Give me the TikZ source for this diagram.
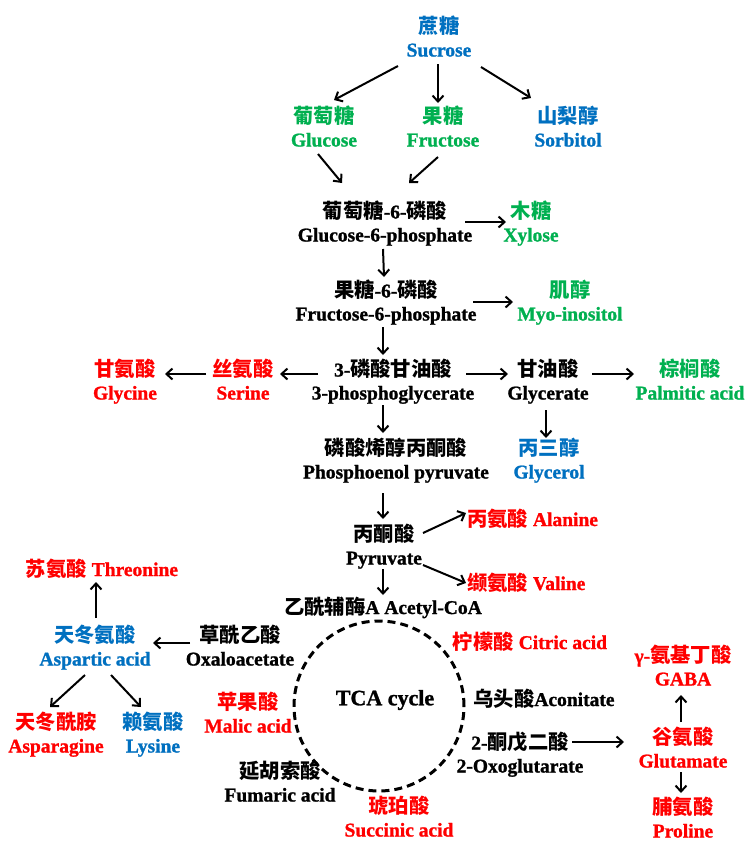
\documentclass[tikz,border=0pt]{standalone}
\usepackage{fontspec}
\setmainfont{Liberation Serif}[BoldFeatures={FakeBold=1.2}]
\newfontfamily\cjkfam{Noto Sans CJK SC}
\usetikzlibrary{arrows.meta}
\definecolor{cblue}{HTML}{0070C0}
\definecolor{cgreen}{HTML}{00B050}
\definecolor{cred}{HTML}{FF0000}
\newcommand\zh[1]{{\cjkfam\bfseries\fontsize{20.3}{23}\selectfont #1}}
\newcommand\two[2]{#1\rule{0pt}{18pt}\\#2\rule[-6pt]{0pt}{6pt}}
\newcommand\one[1]{\rule[-6pt]{0pt}{24pt}#1}
\begin{document}
\begin{tikzpicture}[x=1pt,y=-1pt,
  cmp/.style={align=center,inner sep=0pt,font=\fontsize{19.5}{23}\selectfont\bfseries},
  arr/.style={line width=2pt,-{Straight Barb[length=6pt,width=11pt]}}]
\fill[white] (0,0) rectangle (748,844);
\useasboundingbox (0,0) rectangle (748,844);
% nodes
\node[cmp,text=cblue] (suc) at (439,39) {\two{\zh{蔗糖}}{Sucrose}};
\node[cmp,text=cgreen] (glc) at (324,129) {\two{\zh{葡萄糖}}{Glucose}};
\node[cmp,text=cgreen] (fru) at (443,129) {\two{\zh{果糖}}{Fructose}};
\node[cmp,text=cblue] (sor) at (568,129) {\two{\zh{山梨醇}}{Sorbitol}};
\node[cmp] (g6p) at (385,224) {\two{\zh{葡萄糖}-6-\zh{磷酸}}{Glucose-6-phosphate}};
\node[cmp,text=cgreen] (xyl) at (531,224) {\two{\zh{木糖}}{Xylose}};
\node[cmp] (f6p) at (386,303) {\two{\zh{果糖}-6-\zh{磷酸}}{Fructose-6-phosphate}};
\node[cmp,text=cgreen] (myo) at (570,303) {\two{\zh{肌醇}}{Myo-inositol}};
\node[cmp] (pg3) at (393,382) {\two{3-\zh{磷酸甘油酸}}{3-phosphoglycerate}};
\node[cmp,text=cred] (ser) at (243,382) {\two{\zh{丝氨酸}}{Serine}};
\node[cmp,text=cred] (gly) at (125,382) {\two{\zh{甘氨酸}}{Glycine}};
\node[cmp] (glyc) at (548,382) {\two{\zh{甘油酸}}{Glycerate}};
\node[cmp,text=cgreen] (palm) at (690,382) {\two{\zh{棕榈酸}}{Palmitic acid}};
\node[cmp] (pep) at (396,461) {\two{\zh{磷酸烯醇丙酮酸}}{Phosphoenol pyruvate}};
\node[cmp,text=cblue] (glyl) at (549,461) {\two{\zh{丙三醇}}{Glycerol}};
\node[cmp] (pyr) at (384,547) {\two{\zh{丙酮酸}}{Pyruvate}};
\node[cmp,text=cred,anchor=west] (ala) at (467,520) {\one{\zh{丙氨酸} Alanine}};
\node[cmp,text=cred,anchor=west] (val) at (467,584) {\one{\zh{缬氨酸} Valine}};
\node[cmp] (acoa) at (383,608) {\one{\zh{乙酰辅酶}A Acetyl-CoA}};
\node[cmp,text=cred] (thr) at (102,570) {\one{\zh{苏氨酸} Threonine}};
\node[cmp,text=cblue] (asp) at (95,648) {\two{\zh{天冬氨酸}}{Aspartic acid}};
\node[cmp] (oaa) at (240,648) {\two{\zh{草酰乙酸}}{Oxaloacetate}};
\node[cmp,text=cred] (cit) at (530,643) {\one{\zh{柠檬酸} Citric acid}};
\node[cmp,text=cred] (asn) at (56,735) {\two{\zh{天冬酰胺}}{Asparagine}};
\node[cmp,text=cblue] (lys) at (153,735) {\two{\zh{赖氨酸}}{Lysine}};
\node[cmp,text=cred] (mal) at (248,715) {\two{\zh{苹果酸}}{Malic acid}};
\node[draw,circle,minimum size=170pt,inner sep=0pt,line width=3pt,dash pattern=on 8pt off 5pt] (cyc) at (379,706) {};
\node[inner sep=0pt,font=\fontsize{22}{26}\selectfont\bfseries] (tca) at (385,700) {TCA cycle};
\node[cmp] (aco) at (544,700) {\one{\zh{乌头酸}Aconitate}};
\node[cmp] (oxg) at (520,755) {\two{2-\zh{酮戊二酸}}{2-Oxoglutarate}};
\node[cmp,text=cred] (glu) at (683,750) {\two{\zh{谷氨酸}}{Glutamate}};
\node[cmp,text=cred] (gaba) at (683,668) {\two{γ-\zh{氨基丁酸}}{GABA}};
\node[cmp,text=cred] (pro) at (683,820) {\two{\zh{脯氨酸}}{Proline}};
\node[cmp] (fum) at (280,784) {\two{\zh{延胡索酸}}{Fumaric acid}};
\node[cmp,text=cred] (scc) at (399,819) {\two{\zh{琥珀酸}}{Succinic acid}};
% arrows
\draw[arr] ([shift={(-41,27)}]suc.center) -- ([shift={(10,-29)}]glc.center);
\draw[arr] ([shift={(-1,25)}]suc.center) -- ([shift={(-5,-26)}]fru.center);
\draw[arr] ([shift={(42,28)}]suc.center) -- ([shift={(-37,-31)}]sor.center);
\draw[arr] ([shift={(-6,25)}]glc.center) -- ([shift={(-43,-41)}]g6p.center);
\draw[arr] ([shift={(-5,28)}]fru.center) -- ([shift={(24,-41)}]g6p.center);
\draw[arr] ([shift={(80,-2)}]g6p.center) -- ([shift={(-25,-2)}]xyl.center);
\draw[arr] ([shift={(-2,25)}]g6p.center) -- ([shift={(-2,-26)}]f6p.center);
\draw[arr] ([shift={(87,-1)}]f6p.center) -- ([shift={(-57,-1)}]myo.center);
\draw[arr] ([shift={(-3,24)}]f6p.center) -- ([shift={(-10,-27)}]pg3.center);
\draw[arr] ([shift={(-75,-8)}]pg3.center) -- ([shift={(37,-8)}]ser.center);
\draw[arr] ([shift={(-37,-8)}]ser.center) -- ([shift={(40,-8)}]gly.center);
\draw[arr] ([shift={(73,-8)}]pg3.center) -- ([shift={(-40,-8)}]glyc.center);
\draw[arr] ([shift={(44,-8)}]glyc.center) -- ([shift={(-56,-8)}]palm.center);
\draw[arr] ([shift={(-10,23)}]pg3.center) -- ([shift={(-13,-28)}]pep.center);
\draw[arr] ([shift={(-2,28)}]glyc.center) -- ([shift={(-3,-23)}]glyl.center);
\draw[arr] ([shift={(-13,32)}]pep.center) -- ([shift={(-1,-28)}]pyr.center);
\draw[arr] ([shift={(39,-14)}]pyr.center) -- ([shift={(-1,-7)}]ala.west);
\draw[arr] ([shift={(39,18)}]pyr.center) -- ([shift={(-1,-1)}]val.west);
\draw[arr] ([shift={(-1,22)}]pyr.center) -- ([shift={(0,-13)}]acoa.center);
\draw[arr] ([shift={(1,-30)}]asp.center) -- ([shift={(-6,12)}]thr.center);
\draw[arr] ([shift={(-50,-5)}]oaa.center) -- ([shift={(58,-5)}]asp.center);
\draw[arr] ([shift={(-10,27)}]asp.center) -- ([shift={(-6,-28)}]asn.center);
\draw[arr] ([shift={(16,27)}]asp.center) -- ([shift={(-12,-28)}]lys.center);
\draw[arr] ([shift={(52,-13)}]oxg.center) -- ([shift={(-59,-8)}]glu.center);
\draw[arr] ([shift={(-2,-28)}]glu.center) -- ([shift={(-2,27)}]gaba.center);
\draw[arr] ([shift={(-2,22)}]glu.center) -- ([shift={(-2,-27)}]pro.center);
\end{tikzpicture}
\end{document}
